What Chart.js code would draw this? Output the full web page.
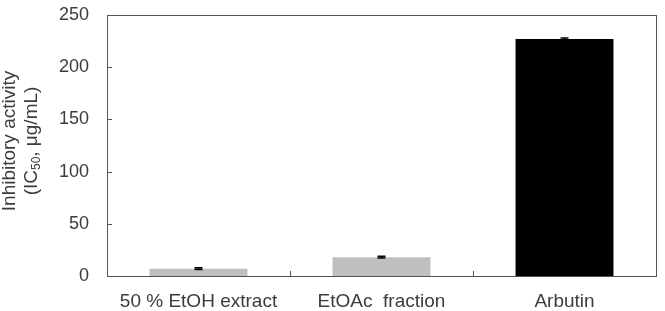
<!DOCTYPE html>
<html>
<head>
<meta charset="utf-8">
<script src="https://cdn.jsdelivr.net/npm/chart.js@4/dist/chart.umd.min.js"></script>
<style>
  html, body { margin: 0; padding: 0; background: #fff; }
  #wrap { width: 665px; height: 311px; }
</style>
</head>
<body>
<div id="wrap"><canvas id="c" width="665" height="311"></canvas></div>
<script>
// IC50 values
const samples = ['50 % EtOH extract', 'EtOAc  fraction', 'Arbutin'];
const ic50 = [7, 18, 227];
const ic50Err = [0.8, 0.8, 1.0];
const barColors = ['#bfbfbf', '#bfbfbf', '#000000'];
const yTicks = [0, 50, 100, 150, 200, 250];

const inkColor = '#3c3c3c';
const fontFamily = '"Liberation Sans", Arial, sans-serif';

// box frame, inward ticks, error bars and the y title with subscript
const framePlugin = {
  id: 'frame',
  afterDatasetsDraw(chart) {
    const { ctx, chartArea: a, scales: { x, y } } = chart;
    ctx.save();

    // error bars
    ctx.strokeStyle = '#000';
    ctx.lineWidth = 1.5;
    ic50.forEach((v, i) => {
      const cx = x.getPixelForValue(i);
      const yTop = y.getPixelForValue(v + ic50Err[i]);
      const yBot = y.getPixelForValue(v - ic50Err[i]);
      ctx.beginPath();
      ctx.moveTo(cx, yTop); ctx.lineTo(cx, yBot);
      ctx.moveTo(cx - 4, yTop); ctx.lineTo(cx + 4, yTop);
      ctx.moveTo(cx - 4, yBot); ctx.lineTo(cx + 4, yBot);
      ctx.stroke();
    });

    ctx.strokeStyle = '#555';
    ctx.lineWidth = 1;
    ctx.strokeRect(Math.round(a.left) + 0.5, Math.round(a.top) + 0.5,
      Math.round(a.right - a.left), Math.round(a.bottom - a.top));

    // y ticks pointing in
    yTicks.slice(1, -1).forEach(t => {
      const py = Math.round(y.getPixelForValue(t)) + 0.5;
      ctx.beginPath();
      ctx.moveTo(a.left, py); ctx.lineTo(a.left + 5, py);
      ctx.stroke();
    });
    // category dividers on the bottom axis
    for (let i = 0; i < samples.length - 1; i++) {
      const px = Math.round((x.getPixelForValue(i) + x.getPixelForValue(i + 1)) / 2) + 0.5;
      ctx.beginPath();
      ctx.moveTo(px, a.bottom); ctx.lineTo(px, a.bottom - 5);
      ctx.stroke();
    }

    // y axis title
    ctx.fillStyle = inkColor;
    ctx.translate(0, 141);
    ctx.rotate(-Math.PI / 2);
    ctx.textBaseline = 'middle';
    ctx.textAlign = 'center';
    ctx.font = '19px ' + fontFamily;
    ctx.fillText('Inhibitory activity', 0, 10);

    const parts = [['(IC', 19, 0], ['50', 12, 5], [', \u03bcg/mL)', 19, 0]];
    let total = 0;
    parts.forEach(p => { ctx.font = p[1] + 'px ' + fontFamily; total += ctx.measureText(p[0]).width; });
    let cx = -total / 2;
    ctx.textAlign = 'left';
    parts.forEach(p => {
      ctx.font = p[1] + 'px ' + fontFamily;
      ctx.fillText(p[0], cx, 32 + p[2]);
      cx += ctx.measureText(p[0]).width;
    });
    ctx.restore();
  }
};

new Chart(document.getElementById('c'), {
  type: 'bar',
  data: {
    labels: samples,
    datasets: [{
      data: ic50,
      backgroundColor: barColors,
      borderWidth: 0,
      barPercentage: 0.535,
      categoryPercentage: 1.0
    }]
  },
  options: {
    responsive: false,
    animation: false,
    layout: { padding: { top: 15, right: 9, left: 0, bottom: 0 } },
    plugins: { legend: { display: false }, tooltip: { enabled: false } },
    scales: {
      x: {
        grid: { display: false, drawTicks: false },
        border: { display: false },
        ticks: { color: inkColor, font: { size: 19, family: fontFamily }, padding: 14, maxRotation: 0 },
        afterFit(s) { s.height = 35; s.paddingLeft = 0; s.paddingRight = 0; }
      },
      y: {
        min: 0,
        max: 250,
        afterBuildTicks(s) { s.ticks = yTicks.map(v => ({ value: v })); },
        grid: { display: false, drawTicks: false },
        border: { display: false },
        ticks: { color: inkColor, font: { size: 18, family: fontFamily }, padding: 18 },
        afterFit(s) { s.width = 107; s.paddingTop = 0; s.paddingBottom = 0; }
      }
    }
  },
  plugins: [framePlugin]
});
</script>
</body>
</html>
